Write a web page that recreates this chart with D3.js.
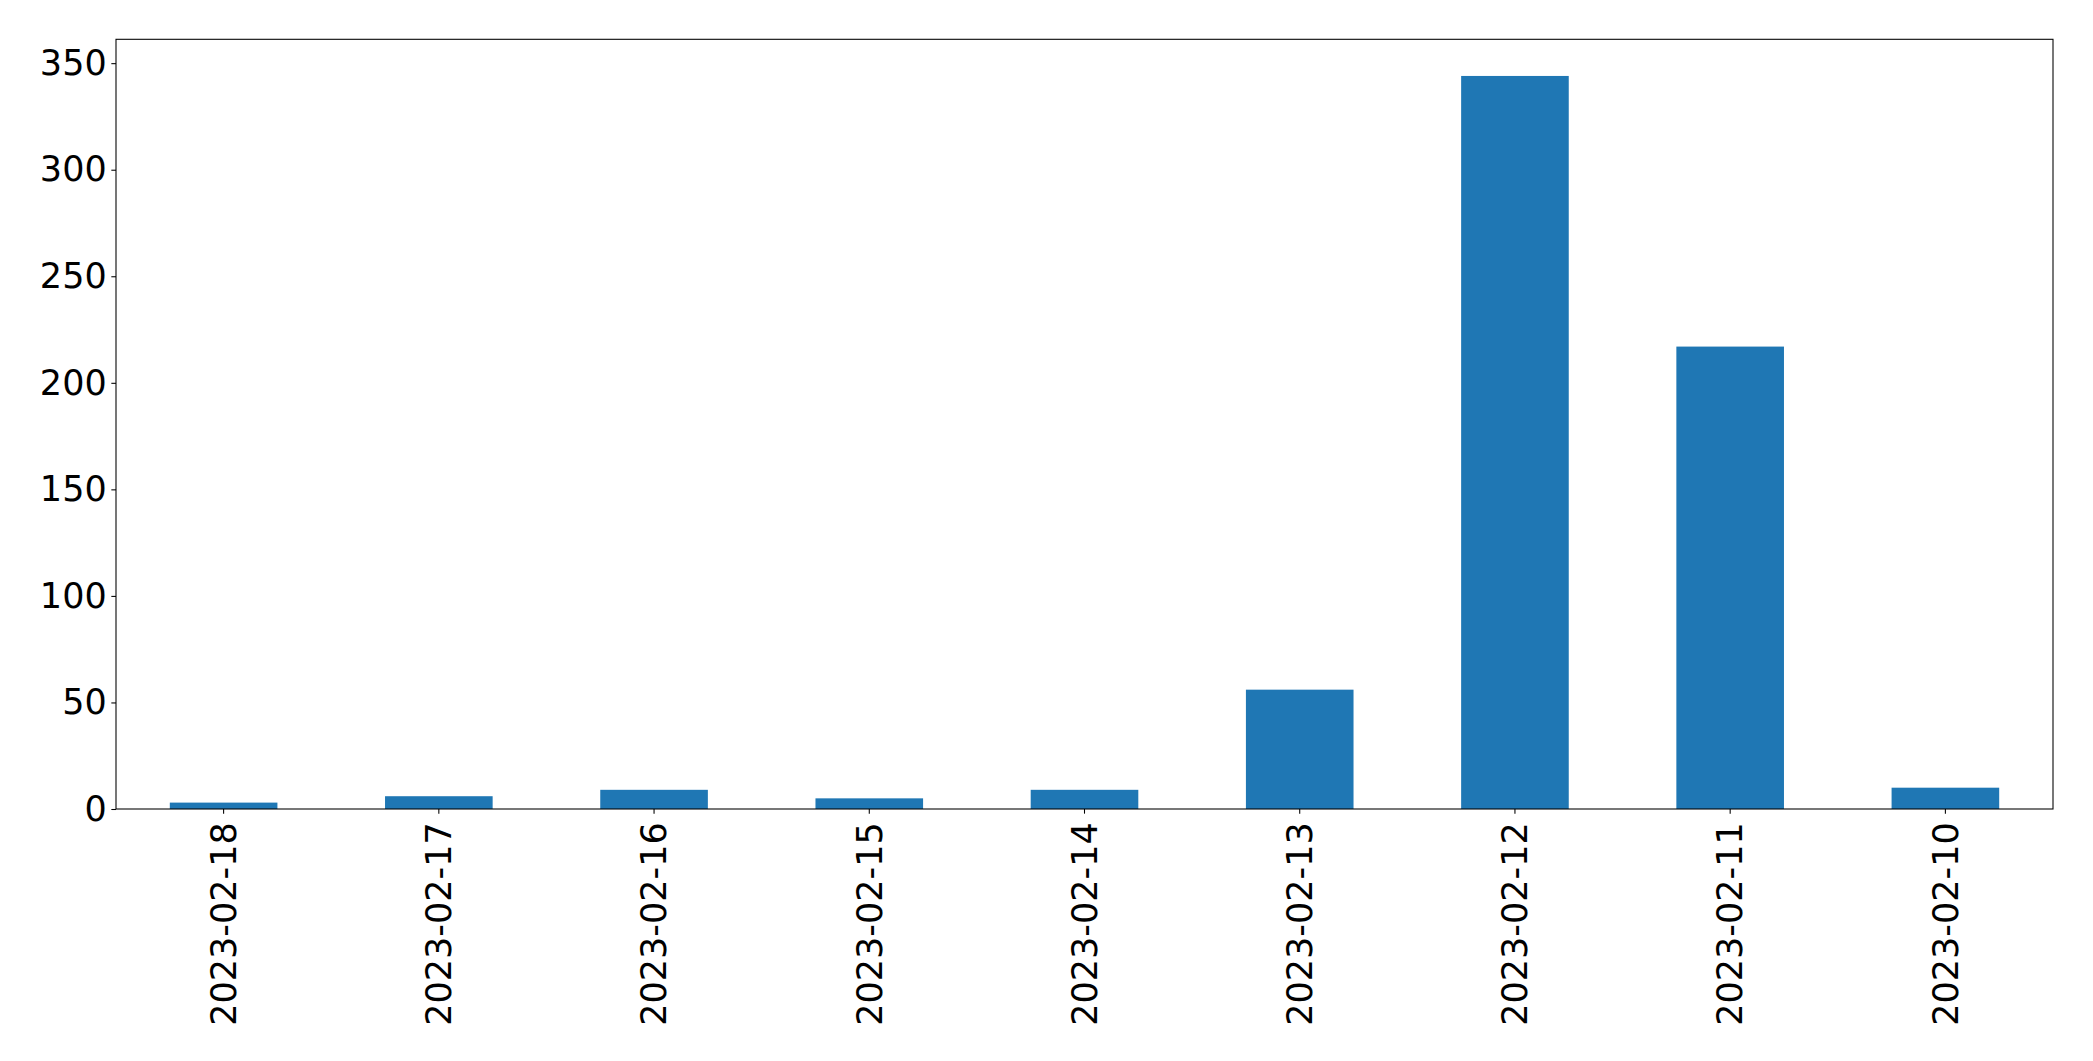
<!DOCTYPE html>
<html>
<head>
<meta charset="utf-8">
<script src="https://cdn.jsdelivr.net/npm/d3@7"></script>
<style>
  html, body { margin: 0; padding: 0; background: #fff; }
  svg { display: block; }
  text { font-family: "DejaVu Sans", sans-serif; fill: #000; }
</style>
</head>
<body>
<svg id="chart" width="2093" height="1061"></svg>
<script>
const categories = ["2023-02-18", "2023-02-17", "2023-02-16", "2023-02-15", "2023-02-14", "2023-02-13", "2023-02-12", "2023-02-11", "2023-02-10"];
const values = [3, 6, 9, 5, 9, 56, 344, 217, 10];
const yTicks = [0, 50, 100, 150, 200, 250, 300, 350];

const W = 2093, H = 1061;
const margin = { left: 116, right: W - 2053, top: 39.3, bottom: H - 809 };
const svg = d3.select("#chart");

const x = d3.scaleBand()
  .domain(categories)
  .range([margin.left, W - margin.right])
  .paddingInner(0.5)
  .paddingOuter(0.25);

const y = d3.scaleLinear()
  .domain([0, d3.max(values) * 1.05])
  .range([H - margin.bottom, margin.top]);

const tickLen = 4.67, tickPad = 4.67, fs = 35;

svg.append("g")
  .selectAll("rect")
  .data(values)
  .join("rect")
  .attr("x", (d, i) => x(categories[i]))
  .attr("width", x.bandwidth())
  .attr("y", d => y(d))
  .attr("height", d => y(0) - y(d))
  .attr("fill", "#1f77b4");

// Y axis
const gy = svg.append("g")
  .attr("transform", `translate(${margin.left},0)`)
  .call(d3.axisLeft(y).tickValues(yTicks).tickSize(tickLen).tickPadding(tickPad).tickFormat(d3.format("d")));
gy.select(".domain").remove();
gy.selectAll(".tick line").attr("stroke", "#000").attr("stroke-width", 1.07);
gy.selectAll(".tick text").attr("font-size", fs).attr("font-family", "DejaVu Sans").attr("fill", "#000");

// X axis
const gx = svg.append("g")
  .attr("transform", `translate(0,${H - margin.bottom})`)
  .call(d3.axisBottom(x).tickSize(tickLen).tickPadding(tickPad));
gx.select(".domain").remove();
gx.selectAll(".tick line").attr("stroke", "#000").attr("stroke-width", 1.07);
gx.selectAll(".tick text")
  .attr("font-size", fs)
  .attr("font-family", "DejaVu Sans")
  .attr("fill", "#000")
  .attr("transform", "rotate(-90)")
  .attr("text-anchor", "end")
  .attr("x", -(tickLen + tickPad + 4))
  .attr("y", 0)
  .attr("dy", "0.35em");

// Frame
svg.append("rect")
  .attr("x", margin.left)
  .attr("y", margin.top)
  .attr("width", W - margin.right - margin.left)
  .attr("height", H - margin.bottom - margin.top)
  .attr("fill", "none")
  .attr("stroke", "#000")
  .attr("stroke-width", 1.07);
</script>
</body>
</html>
